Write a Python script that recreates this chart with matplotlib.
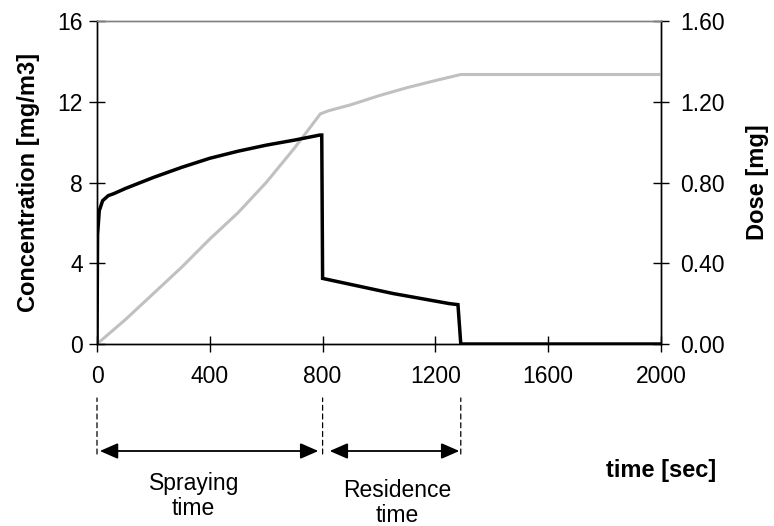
import matplotlib
matplotlib.use("Agg")
import matplotlib.pyplot as plt

# concentration [mg/m3] vs time [s]
conc_t = [0, 2, 8, 20, 40, 60, 100, 200, 300, 400, 500, 600, 700, 790, 797,
          800, 850, 950, 1050, 1150, 1250, 1280, 1290, 2000]
conc_v = [0, 5.4, 6.6, 7.1, 7.35, 7.45, 7.7, 8.25, 8.75, 9.2, 9.55, 9.85, 10.1, 10.35, 10.35,
          3.25, 3.1, 2.8, 2.5, 2.25, 2.0, 1.95, 0, 0]

# cumulative dose [mg] vs time [s]
dose_t = [0, 100, 200, 300, 400, 500, 600, 700, 792, 820, 900, 1000, 1100, 1200, 1290, 2000]
dose_v = [0, 0.12, 0.25, 0.38, 0.52, 0.65, 0.80, 0.97, 1.14, 1.155, 1.185, 1.23, 1.27, 1.305, 1.335, 1.335]

conc_ticks = [0, 4, 8, 12, 16]
dose_ticks = [0.0, 0.4, 0.8, 1.2, 1.6]
time_ticks = [0, 400, 800, 1200, 1600, 2000]

spray_end = 800
residence_end = 1290

plt.rcParams["font.family"] = ["Liberation Sans", "DejaVu Sans"]
FS = 16.5
FS_LAB = 17

W, H = 774, 526
fig = plt.figure(figsize=(W / 100, H / 100), dpi=100)
ax = fig.add_axes([97 / W, 1 - 344 / H, (661 - 97) / W, (344 - 21) / H])
ax2 = ax.twinx()

ax.plot(conc_t, conc_v, color="black", lw=2.5, solid_joinstyle="miter", zorder=2)
ax2.plot(dose_t, dose_v, color="#c0c0c0", lw=2.2, zorder=3)
ax.set_zorder(ax2.get_zorder() + 1)
ax.patch.set_visible(False)

ax.set_xlim(0, 2000)
ax.set_ylim(0, 16)
ax2.set_ylim(0, 1.6)
ax.set_xticks(time_ticks)
ax.set_yticks(conc_ticks)
ax2.set_yticks(dose_ticks)
ax2.set_yticklabels([f"{v:.2f}" for v in dose_ticks])

for a in (ax, ax2):
    a.tick_params(direction="inout", length=12, width=1, labelsize=FS, colors="black")
    for s in a.spines.values():
        s.set_linewidth(1)
    a.spines["top"].set_color("#808080")
ax.tick_params(axis="x", pad=9)
ax.tick_params(axis="y", pad=4)
ax2.tick_params(axis="y", pad=8)

ax.set_ylabel("Concentration [mg/m3]", fontsize=FS_LAB, fontweight="bold", labelpad=13)
ax2.set_ylabel("Dose [mg]", fontsize=FS_LAB, fontweight="bold", labelpad=15)

# annotation below the axis: x in data, y in figure pixels (from bottom)
def py(y_top):
    return H - y_top

for x in (0, spray_end, residence_end):
    ax.annotate("", xy=(x, py(398)), xytext=(x, py(454)),
                xycoords=("data", "figure pixels"), textcoords=("data", "figure pixels"),
                arrowprops=dict(arrowstyle="-", ls=(0, (4, 3)), lw=0.9, color="black",
                                shrinkA=0, shrinkB=0))

arrow = dict(arrowstyle="<|-|>,head_length=1.1,head_width=0.48", lw=1.3,
             color="black", shrinkA=0, shrinkB=0)
ax.annotate("", xy=(10, py(451)), xytext=(spray_end - 15, py(451)),
            xycoords=("data", "figure pixels"), textcoords=("data", "figure pixels"),
            arrowprops=arrow)
ax.annotate("", xy=(spray_end + 25, py(451)), xytext=(residence_end - 5, py(451)),
            xycoords=("data", "figure pixels"), textcoords=("data", "figure pixels"),
            arrowprops=arrow)

ax.annotate("Spraying\ntime", xy=(343, py(496)), xycoords=("data", "figure pixels"),
            ha="center", va="center", fontsize=FS, linespacing=1.15)
ax.annotate("Residence\ntime", xy=(1063, py(503)), xycoords=("data", "figure pixels"),
            ha="center", va="center", fontsize=FS, linespacing=1.15)
fig.text(606 / W, 1 - 470 / H, "time [sec]", ha="left", va="center",
         fontsize=FS_LAB, fontweight="bold")

fig.savefig("out.png", dpi=100)
